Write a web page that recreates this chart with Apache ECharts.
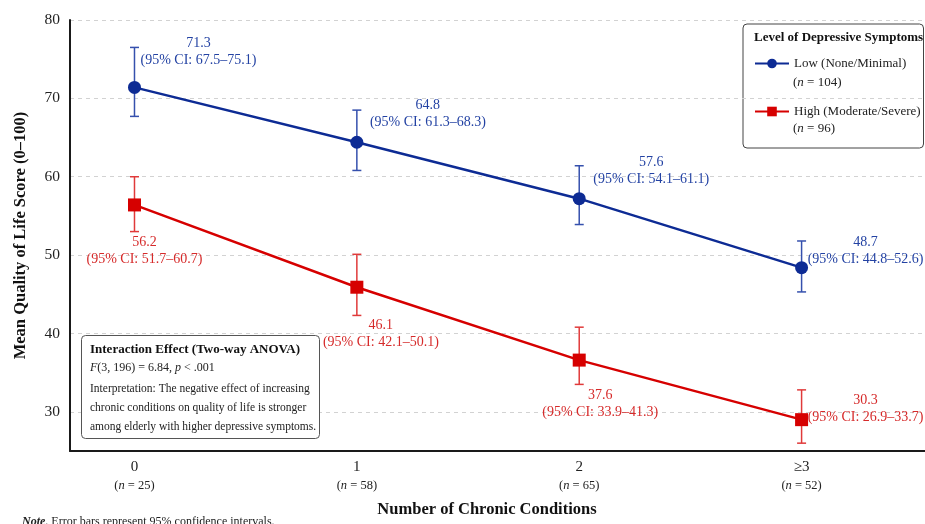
<!DOCTYPE html>
<html>
<head>
<meta charset="utf-8">
<script src="https://cdn.jsdelivr.net/npm/echarts@6/dist/echarts.min.js"></script>
<style>html,body{margin:0;padding:0;background:#fff;}#c{width:925px;height:524px;}</style>
</head>
<body>
<div id="c"></div>
<script>
// ---- data ----
const categories = ['0', '1', '2', '\u22653'];
const groupN = [25, 58, 65, 52];
const seriesNames = ['Low (None/Minimal)', 'High (Moderate/Severe)'];
const seriesN = [104, 96];
// plotted positions
const lowMean = [71.4, 64.4, 57.2, 48.4];
const lowCiLo = [67.7, 60.8, 53.9, 45.3];
const lowCiHi = [76.5, 68.5, 61.4, 51.8];
const highMean = [56.4, 45.9, 36.6, 29.0];
const highCiLo = [53.0, 42.3, 33.5, 26.0];
const highCiHi = [60.0, 50.1, 40.8, 32.8];
// annotated values (as printed)
const lowLabelMean = [71.3, 64.8, 57.6, 48.7];
const lowLabelLo = [67.5, 61.3, 54.1, 44.8];
const lowLabelHi = [75.1, 68.3, 61.1, 52.6];
const highLabelMean = [56.2, 46.1, 37.6, 30.3];
const highLabelLo = [51.7, 42.1, 33.9, 26.9];
const highLabelHi = [60.7, 50.1, 41.3, 33.7];
const yTicks = [30, 40, 50, 60, 70, 80];

// ---- layout / style ----
const FONT = "'Liberation Serif', 'DejaVu Serif', serif";
const BLUE = '#0d2b94';
const BLUE_T = '#2342a3';
const BLUE_E = '#3550ad';
const RED = '#d60000';
const RED_T = '#d62a2a';
const RED_E = '#e03a3a';
const lowOffsets = [[64, -36], [71, -28], [72, -28], [64, -17]];
const highOffsets = [[10, 46], [24, 47], [21, 44], [64, -11]];

function fmt(v) { return v.toFixed(1); }

function lineData(means, lm, llo, lhi, offs) {
  return means.map((m, i) => ({
    value: [i, m],
    label: {
      offset: offs[i],
      formatter: '{t|' + fmt(lm[i]) + '}\n{t|(95% CI: ' + fmt(llo[i]) + '\u2013' + fmt(lhi[i]) + ')}'
    }
  }));
}
function errData(lo, hi) { return lo.map((l, i) => [i, l, hi[i]]); }

function renderErr(params, api) {
  const x = api.value(0);
  const pLo = api.coord([x, api.value(1)]);
  const pHi = api.coord([x, api.value(2)]);
  const cap = 4.5;
  const style = { stroke: api.visual('color'), lineWidth: 1.5 };
  return {
    type: 'group',
    children: [
      { type: 'line', shape: { x1: pLo[0], y1: pLo[1], x2: pHi[0], y2: pHi[1] }, style: style },
      { type: 'line', shape: { x1: pHi[0] - cap, y1: pHi[1], x2: pHi[0] + cap, y2: pHi[1] }, style: style },
      { type: 'line', shape: { x1: pLo[0] - cap, y1: pLo[1], x2: pLo[0] + cap, y2: pLo[1] }, style: style }
    ]
  };
}

function labelCfg(color) {
  return {
    show: true,
    position: 'inside',
    align: 'center',
    verticalAlign: 'middle',
    rich: { t: { fontFamily: FONT, fontSize: 14, color: color, lineHeight: 17, align: 'center' } }
  };
}

const chart = echarts.init(document.getElementById('c'), null, { renderer: 'canvas' });

const option = {
  animation: false,
  backgroundColor: '#fff',
  grid: { left: 70, right: 0, top: 20, bottom: 73, containLabel: false, outerBoundsMode: 'none' },
  xAxis: {
    type: 'value',
    min: -0.29,
    max: 3.555,
    splitNumber: 4,
    axisLine: { show: true, onZero: false, lineStyle: { color: '#1a1a1a', width: 2 } },
    axisTick: { show: false },
    splitLine: { show: false },
    axisLabel: {
      margin: 7,
      formatter: function (v) {
        if (!Number.isInteger(v) || v < 0 || v >= categories.length) return '';
        return '{v|' + categories[v] + '}\n{p|(}{i|n}{p| = ' + groupN[v] + ')}';
      },
      rich: {
        v: { fontFamily: FONT, fontSize: 15, color: '#222', lineHeight: 19, align: 'center' },
        p: { fontFamily: FONT, fontSize: 12.5, color: '#222', lineHeight: 17 },
        i: { fontFamily: FONT, fontSize: 12.5, color: '#222', fontStyle: 'italic', lineHeight: 17 }
      }
    }
  },
  yAxis: {
    type: 'value',
    min: 25,
    max: 80,
    interval: 5,
    name: 'Mean Quality of Life Score (0\u2013100)',
    nameLocation: 'middle',
    nameGap: 41,
    nameTextStyle: { fontFamily: FONT, fontSize: 16.5, fontWeight: 'bold', color: '#111' },
    axisLine: { show: true, onZero: false, lineStyle: { color: '#1a1a1a', width: 2 } },
    axisTick: { show: false },
    axisLabel: {
      margin: 10,
      fontFamily: FONT,
      fontSize: 15.5,
      color: '#222',
      formatter: function (v) { return yTicks.indexOf(v) >= 0 ? String(v) : ''; }
    },
    splitLine: {
      show: true,
      lineStyle: { color: ['rgba(0,0,0,0)', '#d2d2d2'], type: [4, 4], width: 1 }
    }
  },
  legend: {
    data: seriesNames,
    orient: 'vertical',
    left: 754,
    top: 57,
    padding: 0,
    itemWidth: 34,
    itemHeight: 12,
    itemGap: 35,
    textStyle: { fontFamily: FONT, fontSize: 13, color: '#222' },
    selectedMode: false
  },
  series: [
    {
      name: 'lowErr', type: 'custom', renderItem: renderErr, z: 2,
      itemStyle: { color: BLUE_E }, data: errData(lowCiLo, lowCiHi)
    },
    {
      name: 'highErr', type: 'custom', renderItem: renderErr, z: 2,
      itemStyle: { color: RED_E }, data: errData(highCiLo, highCiHi)
    },
    {
      name: seriesNames[0], type: 'line', z: 3,
      symbol: 'circle', symbolSize: 13,
      lineStyle: { color: BLUE, width: 2.5 },
      itemStyle: { color: BLUE },
      label: labelCfg(BLUE_T),
      data: lineData(lowMean, lowLabelMean, lowLabelLo, lowLabelHi, lowOffsets)
    },
    {
      name: seriesNames[1], type: 'line', z: 3,
      symbol: 'rect', symbolSize: 13,
      lineStyle: { color: RED, width: 2.5 },
      itemStyle: { color: RED },
      label: labelCfg(RED_T),
      data: lineData(highMean, highLabelMean, highLabelLo, highLabelHi, highOffsets)
    }
  ],
  graphic: [
    // legend box
    {
      type: 'rect', z: -1, silent: true,
      shape: { x: 743, y: 24, width: 180.5, height: 124, r: 4 },
      style: { fill: '#fff', stroke: '#444', lineWidth: 1 }
    },
    {
      type: 'text', left: 754, top: 31,
      style: { text: 'Level of Depressive Symptoms', font: 'bold 13px ' + FONT, fill: '#111' }
    },
    {
      type: 'text', left: 793, top: 76,
      style: {
        text: '{p|(}{i|n}{p| = ' + seriesN[0] + ')}',
        rich: {
          p: { fontFamily: FONT, fontSize: 13, fill: '#222' },
          i: { fontFamily: FONT, fontSize: 13, fontStyle: 'italic', fill: '#222' }
        }
      }
    },
    {
      type: 'text', left: 793, top: 122,
      style: {
        text: '{p|(}{i|n}{p| = ' + seriesN[1] + ')}',
        rich: {
          p: { fontFamily: FONT, fontSize: 13, fill: '#222' },
          i: { fontFamily: FONT, fontSize: 13, fontStyle: 'italic', fill: '#222' }
        }
      }
    },
    // interaction box
    {
      type: 'rect', silent: true, z: 10,
      shape: { x: 81.5, y: 335.5, width: 238, height: 103, r: 4 },
      style: { fill: '#fff', stroke: '#555', lineWidth: 1 }
    },
    {
      type: 'text', left: 90, top: 343, z: 11,
      style: { text: 'Interaction Effect (Two-way ANOVA)', font: 'bold 13px ' + FONT, fill: '#111' }
    },
    {
      type: 'text', left: 90, top: 362, z: 11,
      style: {
        text: '{i|F}{r|(3, 196) = 6.84, }{i|p}{r| < .001}',
        rich: {
          r: { fontFamily: FONT, fontSize: 12, fill: '#222' },
          i: { fontFamily: FONT, fontSize: 12, fontStyle: 'italic', fill: '#222' }
        }
      }
    },
    {
      type: 'text', left: 90, top: 383, z: 11,
      style: { text: 'Interpretation: The negative effect of increasing', font: '11.5px ' + FONT, fill: '#222' }
    },
    {
      type: 'text', left: 90, top: 402, z: 11,
      style: { text: 'chronic conditions on quality of life is stronger', font: '11.5px ' + FONT, fill: '#222' }
    },
    {
      type: 'text', left: 90, top: 421, z: 11,
      style: { text: 'among elderly with higher depressive symptoms.', font: '11.5px ' + FONT, fill: '#222' }
    },
    // x axis title
    {
      type: 'text', x: 487, y: 510,
      style: {
        text: 'Number of Chronic Conditions', font: 'bold 16.5px ' + FONT, fill: '#111',
        textAlign: 'center', textVerticalAlign: 'middle'
      }
    },
    // note
    {
      type: 'text', left: 22, top: 516,
      style: {
        text: '{b|Note}{r|. Error bars represent 95% confidence intervals.}',
        rich: {
          b: { fontFamily: FONT, fontSize: 12, fontWeight: 'bold', fontStyle: 'italic', fill: '#222' },
          r: { fontFamily: FONT, fontSize: 12, fill: '#222' }
        }
      }
    }
  ]
};
chart.setOption(option);
</script>
</body>
</html>
